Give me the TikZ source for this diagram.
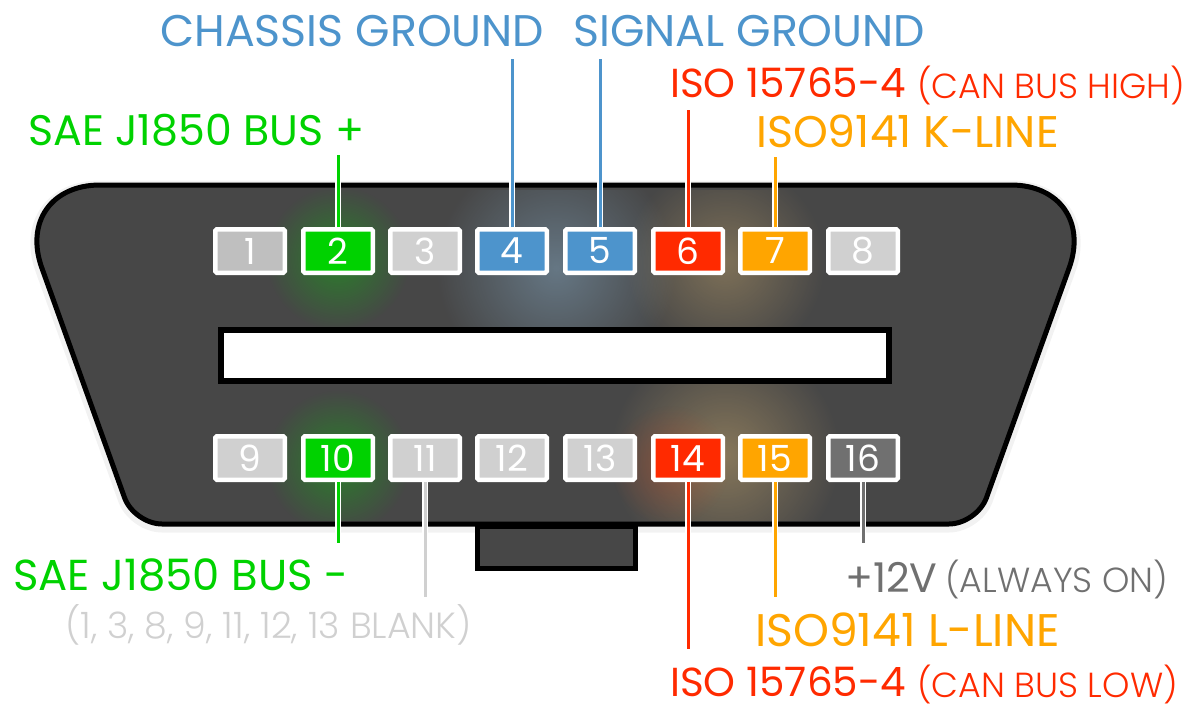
\documentclass[tikz,border=0pt]{standalone}
\usepackage{fontspec}
\setmainfont{Poppins}
\newfontfamily\notefont{Poppins}[UprightFont=* Light]
\usetikzlibrary{fadings}
\definecolor{bodygray}{HTML}{474747}
\definecolor{pingreen}{HTML}{00D200}
\definecolor{pinblue}{HTML}{4D94CC}
\definecolor{pinred}{HTML}{FF2A00}
\definecolor{pinorange}{HTML}{FFA500}
\definecolor{pinblank}{HTML}{D0D0D0}
\definecolor{pingray}{HTML}{707070}
\tikzfading[name=glowfade, inner color=transparent!0, outer color=transparent!100]
\newcommand{\bodyoutline}{(555,185) [rounded corners=88pt] -- (1099,185) [rounded corners=28pt] -- (977,524) -- (134,524)
    [rounded corners=88pt] -- (12,185) [sharp corners] -- cycle}
\tikzset{
    pin/.style={draw=white, line width=4.5pt, rounded corners=1.5pt, minimum width=69.5pt, minimum height=43.5pt,
        inner sep=0pt, text=white, font=\fontsize{36}{36}\selectfont},
    wire/.style={draw=white, line width=6.5pt, line cap=round, postaction={draw=#1, line width=3pt, line cap=butt}},
    biglabel/.style={anchor=west, inner sep=0pt, font=\fontsize{44.3}{44}\selectfont},
    smalllabel/.style={anchor=west, inner sep=0pt, font=\notefont\fontsize{34.8}{34}\selectfont},
    glow/.style={fill=#1, path fading=glowfade}
}
\begin{document}
\begin{tikzpicture}[x=1pt, y=-1pt]
    \useasboundingbox (0,0) rectangle (1196,704);

    % connector body
    \draw[draw=black!5, line width=13pt] [yshift=-2pt] \bodyoutline;
    \draw[draw=black, line width=5pt, fill=bodygray] \bodyoutline;
    \draw[draw=black, line width=5pt, fill=bodygray] (477,526) rectangle (635,568);

    % glows
    \begin{scope}
        \clip (60,190) rectangle (1050,520);
        \fill[glow=pingreen, opacity=.4] (338,258) circle (72);
        \fill[glow=pingreen, opacity=.4] (338,462) circle (72);
        \fill[glow=pinblue!60!white, opacity=.4] (556,268) circle (120);
        \fill[glow=pinorange!50!white, opacity=.3] (725,262) circle (100);
        \fill[glow=pinorange!50!white, opacity=.35] (725,455) circle (115);
        \fill[glow=pinred, opacity=.2] (670,465) circle (60);
    \end{scope}

    % slot
    \draw[draw=black, line width=5.5pt, fill=white] (221,330) rectangle (889,381);

    % wire ends
    \coordinate (end2) at (338,155);
    \coordinate (end4) at (512,59);
    \coordinate (end5) at (600,59);
    \coordinate (end6) at (688,110);
    \coordinate (end7) at (775,157);
    \coordinate (end10) at (338,543);
    \coordinate (end11) at (425,597);
    \coordinate (end14) at (688,649);
    \coordinate (end15) at (775,597);
    \coordinate (end16) at (863,543);

    % pins
    \foreach \n/\x/\c in {1/250/pinblank!92!black, 2/338/pingreen, 3/425/pinblank, 4/512/pinblue,
        5/600/pinblue, 6/688/pinred, 7/775/pinorange, 8/863/pinblank}{
        \node[pin, fill=\c] (pin\n) at (\x,251) {\n};
    }
    \foreach \n/\x/\c in {9/250/pinblank, 10/338/pingreen, 11/425/pinblank, 12/512/pinblank,
        13/600/pinblank, 14/688/pinred, 15/775/pinorange, 16/863/pingray}{
        \node[pin, fill=\c] (pin\n) at (\x,458) {\n};
    }

    % wires
    \draw[wire=pingreen] (pin2.north) -- (end2);
    \draw[wire=pinblue] (pin4.north) -- (end4);
    \draw[wire=pinblue] (pin5.north) -- (end5);
    \draw[wire=pinred] (pin6.north) -- (end6);
    \draw[wire=pinorange] (pin7.north) -- (end7);
    \draw[wire=pingreen] (pin10.south) -- (end10);
    \draw[wire=pinblank] (pin11.south) -- (end11);
    \draw[wire=pinred] (pin14.south) -- (end14);
    \draw[wire=pinorange] (pin15.south) -- (end15);
    \draw[wire=pingray] (pin16.south) -- (end16);

    % labels
    \node[biglabel, text=pinblue] (chassis) at (160,31) {CHASSIS GROUND};
    \node[biglabel, text=pinblue] (signal) at (573,31) {SIGNAL GROUND};
    \node[biglabel, text=pinred, font=\fontsize{40.5}{41}\selectfont] (canhigh) at (670,83) {ISO 15765-4};
    \node[smalllabel, text=pinred] (canhighnote) at (917,85) {(CAN BUS HIGH)};
    \node[biglabel, text=pinorange] (kline) at (756,131) {ISO9141 K-LINE};
    \node[biglabel, text=pingreen, font=\fontsize{42.7}{43}\selectfont] (busplus) at (28,130) {SAE J1850 BUS +};
    \node[biglabel, text=pingreen, font=\fontsize{43.3}{43}\selectfont] (busminus) at (13,575) {SAE J1850 BUS -};
    \node[smalllabel, text=pinblank, font=\notefont\fontsize{36.4}{36}\selectfont] (blank) at (65,625) {(1, 3, 8, 9, 11, 12, 13 BLANK)};
    \node[biglabel, text=pingray, font=\fontsize{41}{41}\selectfont] (always) at (845,577) {+12V};
    \node[smalllabel, text=pingray] (alwaysnote) at (945,579) {(ALWAYS ON)};
    \node[biglabel, text=pinorange, font=\fontsize{45.7}{46}\selectfont] (lline) at (755,630) {ISO9141 L-LINE};
    \node[biglabel, text=pinred, font=\fontsize{40.5}{41}\selectfont] (canlow) at (670,682) {ISO 15765-4};
    \node[smalllabel, text=pinred] (canlownote) at (917,684) {(CAN BUS LOW)};
\end{tikzpicture}
\end{document}
